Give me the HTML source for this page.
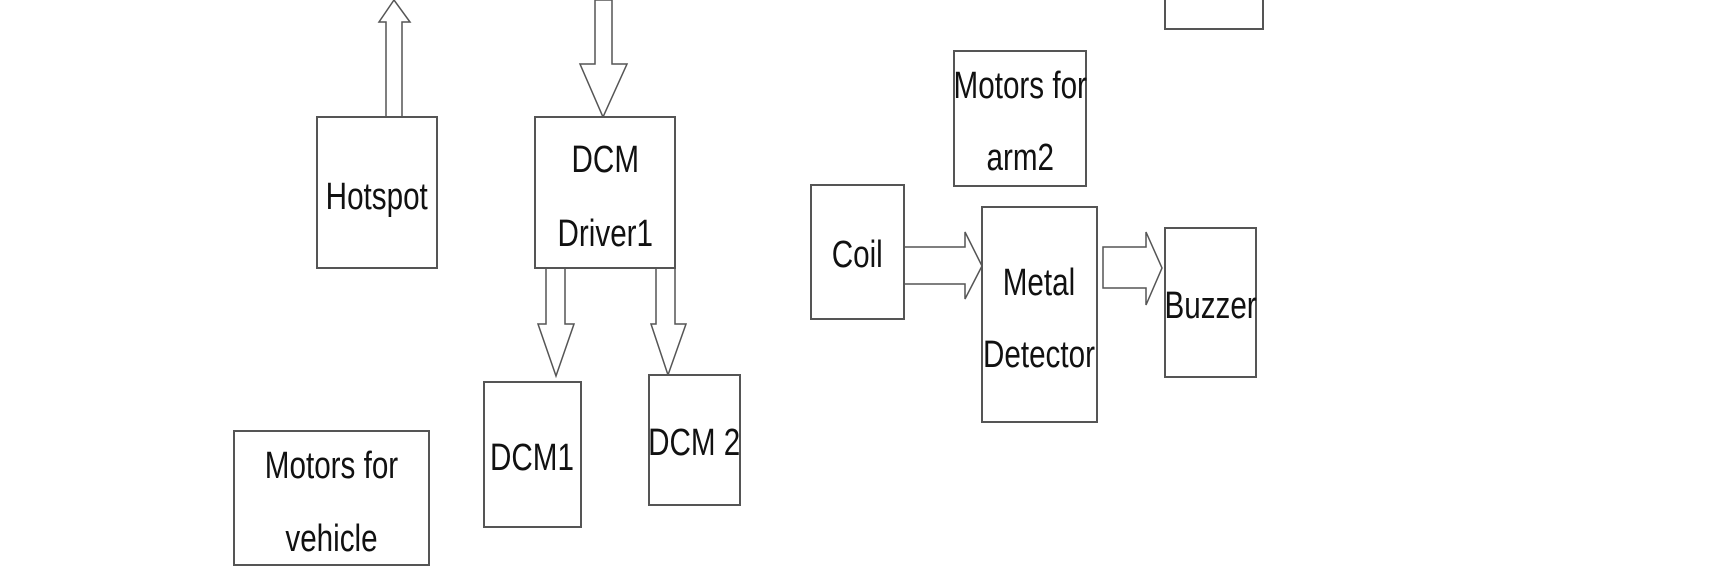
<!DOCTYPE html>
<html><head><style>
html,body{margin:0;padding:0;background:#fff;}
svg{display:block;}
text{font-family:"Liberation Sans Narrow","Liberation Sans",sans-serif;font-size:38px;fill:#111;text-anchor:middle;}
rect{fill:#fff;stroke:#555;stroke-width:2;}
.s{fill:#fff;stroke:#555;stroke-width:1.5;}
</style></head><body>
<svg width="1724" height="586" viewBox="0 0 1724 586">
<rect x="1165" y="-5" width="98" height="34"/>
<polygon class="s" points="386,117 386,22 379,22 394,0 410,22 402,22 402,117"/>
<polygon class="s" points="595,0 595,64 580,64 603,117 627,64 612,64 612,0"/>
<polygon class="s" points="546,268 546,324 538,324 556,376 574,324 565,324 565,268"/>
<polygon class="s" points="656,268 656,324 651,324 668,375 686,324 675,324 675,268"/>
<polygon class="s" points="904,247 965,247 965,232 982,266 965,299 965,284 904,284"/>
<polygon class="s" points="1103,247 1146,247 1146,232 1162,268 1146,305 1146,288 1103,288"/>
<rect x="317" y="117" width="120" height="151"/>
<rect x="535" y="117" width="140" height="151"/>
<rect x="954" y="51" width="132" height="135"/>
<rect x="811" y="185" width="93" height="134"/>
<rect x="982" y="207" width="115" height="215"/>
<rect x="1165" y="228" width="91" height="149"/>
<rect x="484" y="382" width="97" height="145"/>
<rect x="649" y="375" width="91" height="130"/>
<rect x="234" y="431" width="195" height="134"/>
<g transform="scale(0.78,1)">
<text x="483" y="209">Hotspot</text>
<text x="776" y="172">DCM</text>
<text x="776" y="246">Driver1</text>
<text x="1308" y="98">Motors for</text>
<text x="1308" y="170">arm2</text>
<text x="1099" y="267">Coil</text>
<text x="1332" y="295">Metal</text>
<text x="1332" y="367">Detector</text>
<text x="1552" y="318">Buzzer</text>
<text x="682" y="470">DCM1</text>
<text x="890" y="455">DCM 2</text>
<text x="425" y="478">Motors for</text>
<text x="425" y="551">vehicle</text>
</g>
</svg>
</body></html>
